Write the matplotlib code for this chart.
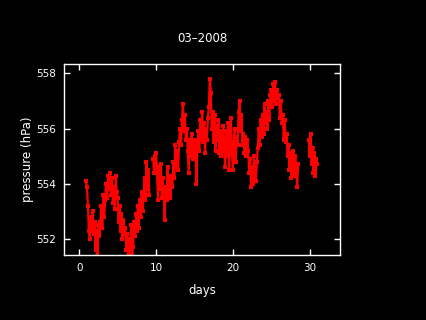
import numpy as np
import matplotlib
matplotlib.use("Agg")
import matplotlib.pyplot as plt

nan = np.nan

# pressure, 8 samples per day (every 3 h), starting at day 0.875
start_day = 0.875
step = 0.125
pressure = [554.1,
    # day 1
    553.9, 553.2, 552.3, 552.0, 552.8, 552.3, 553.0, 552.2,
    # day 2
    552.6, 551.6, 552.3, 551.4, 552.5, 552.1, 552.6, 553.2,
    # day 3
    552.4, 553.6, 552.8, 553.4, 554.0, 553.5, 554.3, 553.8,
    # day 4
    554.4, 553.6, 554.2, 553.3, 553.9, 553.1, 554.3, 553.7,
    # day 5
    553.5, 552.6, 553.2, 552.3, 552.9, 552.0, 552.7, 552.2,
    # day 6
    552.4, 551.6, 552.2, 551.4, 552.0, 551.5, 552.5, 551.4,
    # day 7
    551.7, 552.6, 552.1, 552.9, 552.3, 553.2, 552.4, 553.4,
    # day 8
    552.8, 553.7, 553.0, 553.5, 554.2, 553.4, 554.8, 553.8,
    # day 9
    554.5, 553.6, nan, nan, nan, 554.9, 554.4, 555.0,
    # day 10
    555.1, 554.5, 553.4, 554.6, 553.8, 554.7, 553.5, 554.2,
    # day 11
    553.6, 552.7, 553.9, 553.4, 554.6, 553.6, 554.2, 553.5,
    # day 12
    554.3, 553.9, 554.8, 554.2, 555.4, 554.6, 555.2, 554.5,
    # day 13
    555.5, 556.0, 555.4, 556.3, 556.9, 555.9, 556.5, 555.6,
    # day 14
    556.0, 555.2, 554.4, 555.6, 555.0, 555.8, 554.9, 555.5,
    # day 15
    554.9, 555.6, 554.0, 555.3, 555.9, 555.2, 556.3, 555.6,
    # day 16
    556.6, 555.5, 556.2, 555.1, 556.0, 555.6, 556.4, 556.8,
    # day 17
    557.8, 557.3, 556.0, 556.6, 555.5, 556.5, 555.2, 556.1,
    # day 18
    555.6, 556.3, 555.1, 555.9, 555.0, 555.7, 556.1, 555.2,
    # day 19
    554.6, 555.9, 555.0, 556.2, 554.5, 555.6, 556.4, 555.1,
    # day 20
    554.5, 555.5, 556.0, 554.8, 555.7, 555.4, 556.6, 557.0,
    # day 21
    555.9, 556.5, 555.4, 555.8, 555.1, 555.7, 555.0, 555.6,
    # day 22
    555.2, 554.4, 554.9, 553.9, 554.6, 554.0, 555.0, 554.3,
    # day 23
    554.1, 554.8, 555.3, 556.0, 555.4, 556.3, 555.7, 556.5,
    # day 24
    555.8, 556.9, 556.2, 556.6, 556.0, 557.0, 556.3, 557.2,
    # day 25
    557.4, 556.8, 557.6, 557.0, 557.7, 556.9, 557.4, 557.1,
    # day 26
    557.2, 556.4, 557.0, 556.2, 556.5, 555.6, 556.3, 555.5,
    # day 27
    555.8, 555.0, 555.4, 554.5, 555.1, 554.2, 554.8, 555.2,
    # day 28
    554.3, 555.0, 554.6, 553.9, 554.7, nan, nan, nan,
    # day 29
    nan, nan, nan, nan, nan, nan, nan, 555.6,
    # day 30
    555.0, 555.8, 554.7, 555.3, 554.4, 555.1, 554.3, 554.9,
    # day 31
    554.7]

days = start_day + step * np.arange(len(pressure))

plt.rcParams['font.family'] = 'DejaVu Sans'
fig = plt.figure(figsize=(4.26, 3.2), dpi=100, facecolor='black')
ax = fig.add_axes([0.150, 0.203, 0.649, 0.597], facecolor='black')

ax.plot(days, pressure, color='red', lw=1.6, marker='s', ms=2.4, mew=0)

ax.set_xlim(-2, 34)
ax.set_ylim(551.42, 558.34)
ax.set_xticks([0, 10, 20, 30])
ax.set_yticks([552, 554, 556, 558])

for s in ax.spines.values():
    s.set_color('white')
    s.set_linewidth(1)
ax.tick_params(direction='in', length=4.3, width=1, colors='white',
               top=True, right=True, labelsize=7.5, pad=6)

ax.set_title('03\u20132008', color='white', fontsize=8.5, pad=16)
ax.set_xlabel('days', color='white', fontsize=8.5, labelpad=8)
ax.set_ylabel('pressure (hPa)', color='white', fontsize=8.5, labelpad=1)

fig.savefig('out.png', dpi=100, facecolor='black')
